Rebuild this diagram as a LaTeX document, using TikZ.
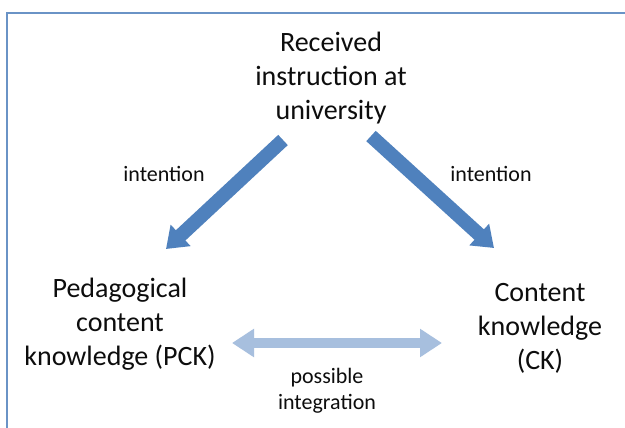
\documentclass[tikz,border=0pt]{standalone}
\usepackage{fontspec}
\setmainfont{Carlito}
\usetikzlibrary{arrows.meta}
\definecolor{darkarrow}{HTML}{4F81BD}
\definecolor{lightarrow}{HTML}{A7BFDE}
\definecolor{framecol}{HTML}{6A93C6}
\definecolor{txt}{HTML}{0D0D0D}
\tikzset{
  bigtext/.style={align=center, text=txt, inner sep=0pt, font=\fontsize{28}{34}\selectfont},
  smalltext/.style={align=center, text=txt, inner sep=0pt, font=\fontsize{22}{26}\selectfont},
  mainarrow/.style={draw=darkarrow, line width=14pt, -{Triangle[width=28pt,length=20pt]}},
  intarrow/.style={draw=lightarrow, line width=10pt, {Triangle[width=27pt,length=22pt]}-{Triangle[width=27pt,length=22pt]}},
}
\begin{document}
\begin{tikzpicture}[x=1pt,y=-1pt]
\useasboundingbox (0,0) rectangle (625,428);
\fill[white] (0,0) rectangle (625,428);
\draw[framecol, line width=1.6pt] (7,440) -- (7,13) -- (640,13);

\node[bigtext] (top) at (331,78) {Received\\instruction at\\university};
\node[bigtext] (pck) at (120,324) {Pedagogical\\content\\knowledge (PCK)};
\node[bigtext] (ck) at (540,328) {Content\\knowledge\\(CK)};

\coordinate (lt) at (283,140);
\coordinate (lh) at (166,249);
\coordinate (rt) at (371,136);
\coordinate (rh) at (494,248);
\coordinate (il) at (232,343);
\coordinate (ir) at (442,343);

\draw[mainarrow] (lt) -- (lh);
\draw[mainarrow] (rt) -- (rh);
\draw[intarrow] (il) -- (ir);

\node[smalltext] (lint) at (164,174) {intention};
\node[smalltext] (rint) at (491,174) {intention};
\node[smalltext] (pi) at (327,391) {possible\\integration};
\end{tikzpicture}
\end{document}
